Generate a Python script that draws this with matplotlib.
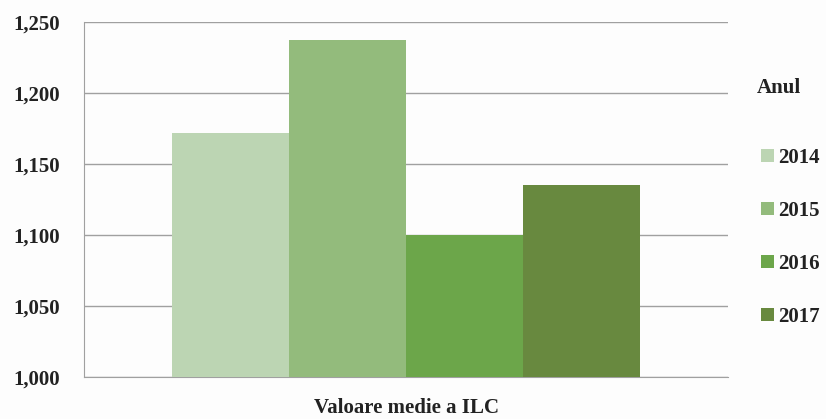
import matplotlib.pyplot as plt
import numpy as np
from matplotlib.patches import Patch

years = ["2014", "2015", "2016", "2017"]
values = [1172, 1237, 1100, 1135]
colors = ["#bcd5b3", "#93bb7c", "#6ca64a", "#68893f"]
yticks = [1000, 1050, 1100, 1150, 1200, 1250]
category = "Valoare medie a ILC"

plt.rcParams['font.family'] = ['Liberation Serif', 'DejaVu Serif']
plt.rcParams['font.weight'] = 'bold'
FS = 15
TXT = '#222222'

fig = plt.figure(figsize=(8.26, 4.19), dpi=100)
fig.patch.set_facecolor('#fdfdfd')
ax = fig.add_axes([84/826, 42/419, (728-84)/826, (377-22)/419])
ax.set_facecolor('#fdfdfd')

n = len(years)
offsets = np.arange(n) - (n - 1) / 2
for off, v, c, y in zip(offsets, values, colors, years):
    ax.bar(off, v - 1000, bottom=1000, width=1.0, color=c, label=y, zorder=3)

ax.set_ylim(1000, 1250)
ax.set_xlim(-2.755, 2.755)
ax.set_yticks(yticks)
ax.set_yticklabels([f"{t:,}" for t in yticks], fontsize=FS, fontweight='bold', color=TXT)
ax.set_xticks([])
ax.yaxis.grid(True, color='#a0a0a0', linewidth=1.0, zorder=0)
ax.tick_params(axis='y', length=0, pad=17)
for s in ['top', 'right']:
    ax.spines[s].set_visible(False)
ax.spines['left'].set_color('#a0a0a0')
ax.spines['bottom'].set_color('#a0a0a0')
ax.set_xlabel(category, fontsize=FS, fontweight='bold', color=TXT, labelpad=15)

fig.text(757/826, 1 - 88/419, "Anul", fontsize=FS, fontweight='bold', color=TXT, va='center', ha='left')
handles = [Patch(facecolor=c, label=y) for c, y in zip(colors, years)]
leg = fig.legend(handles=handles, loc='center left', bbox_to_anchor=(753/826, 1 - 237.5/419),
                 frameon=False, fontsize=FS, handlelength=0.6, handleheight=0.6,
                 handletextpad=0.2, labelspacing=1.58, borderaxespad=0)
for t in leg.get_texts():
    t.set_color(TXT)

fig.savefig('out.png', dpi=100, facecolor=fig.get_facecolor())
